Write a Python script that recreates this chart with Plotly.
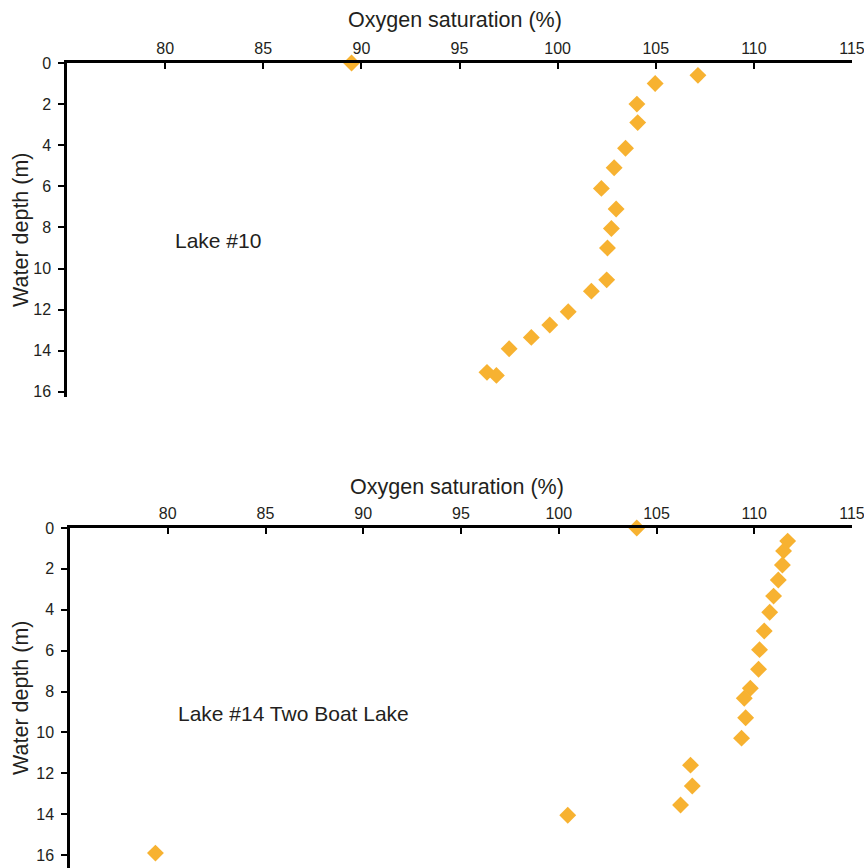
import plotly.graph_objects as go

W, H = 864, 868

# Lake #10
lake10_o2 = [89.5, 107.15, 104.97, 104.04, 104.08, 103.46, 102.88, 102.23, 102.98, 102.74,
             102.54, 102.5, 101.72, 100.54, 99.6, 98.66, 97.53, 96.4, 96.88]
lake10_depth = [0, 0.6, 1.0, 2.0, 2.9, 4.15, 5.1, 6.1, 7.1, 8.05,
                9.0, 10.55, 11.1, 12.1, 12.75, 13.35, 13.9, 15.05, 15.2]

# Lake #14 Two Boat Lake
lake14_o2 = [103.99, 111.71, 111.5, 111.44, 111.23, 110.99, 110.79, 110.51, 110.27, 110.22,
             109.8, 109.49, 109.56, 109.35, 106.74, 106.83, 106.23, 100.46, 79.37]
lake14_depth = [0, 0.64, 1.12, 1.81, 2.54, 3.33, 4.12, 5.04, 5.95, 6.91,
                7.84, 8.33, 9.28, 10.28, 11.6, 12.62, 13.55, 14.05, 15.9]

x_ticks = [80, 85, 90, 95, 100, 105, 110, 115]
y_ticks = [0, 2, 4, 6, 8, 10, 12, 14, 16]

TXT = "#231f20"
MK = "#f7b231"
FONT = "Liberation Sans, Arial, sans-serif"

fig = go.Figure()
fig.add_trace(go.Scatter(x=lake10_o2, y=lake10_depth, mode="markers", xaxis="x", yaxis="y",
                         marker=dict(symbol="diamond", size=13, color=MK, line=dict(width=0)),
                         cliponaxis=False, showlegend=False))
fig.add_trace(go.Scatter(x=lake14_o2, y=lake14_depth, mode="markers", xaxis="x2", yaxis="y2",
                         marker=dict(symbol="diamond", size=13, color=MK, line=dict(width=0)),
                         cliponaxis=False, showlegend=False))

def px_x(p):
    return p / W

def px_y(p):
    return 1 - p / H

xcommon = dict(range=[75, 115], side="top", tickvals=x_ticks, ticks="inside", ticklen=6,
               tickwidth=2, tickcolor="black", showline=True, linecolor="black", linewidth=2.5,
               showgrid=False, zeroline=False, tickfont=dict(size=16, color=TXT, family=FONT),
               fixedrange=True, automargin=False, ticklabeloverflow="allow")
ycommon = dict(tickvals=y_ticks, ticks="outside", ticklen=6, tickwidth=2, tickcolor="black",
               showline=True, linecolor="black", linewidth=2.5, showgrid=False, zeroline=False,
               tickfont=dict(size=16, color=TXT, family=FONT), fixedrange=True, automargin=False,
               ticklabelstandoff=4, ticklabeloverflow="allow")

fig.update_layout(
    width=W, height=H, margin=dict(l=0, r=0, t=0, b=0, autoexpand=False),
    paper_bgcolor="white", plot_bgcolor="white",
    font=dict(family=FONT, color=TXT),
    xaxis=dict(domain=[px_x(67), px_x(852)], anchor="y", **xcommon),
    yaxis=dict(domain=[px_y(397), px_y(63)], anchor="x", range=[16.25, 0], **ycommon),
    xaxis2=dict(domain=[px_x(70), px_x(852)], anchor="y2", **xcommon),
    yaxis2=dict(domain=[0, px_y(528)], anchor="x2", range=[16.63, 0], **ycommon),
)

ann = []
ann.append(dict(text="Oxygen saturation (%)", x=px_x(455), y=px_y(20), xref="paper", yref="paper",
                showarrow=False, xanchor="center", yanchor="middle", font=dict(size=21.5, color=TXT)))
ann.append(dict(text="Oxygen saturation (%)", x=px_x(457), y=px_y(487), xref="paper", yref="paper",
                showarrow=False, xanchor="center", yanchor="middle", font=dict(size=21.5, color=TXT)))
ann.append(dict(text="Water depth (m)", x=px_x(21), y=px_y(230), xref="paper", yref="paper",
                showarrow=False, xanchor="center", yanchor="middle", textangle=-90,
                font=dict(size=21.5, color=TXT)))
ann.append(dict(text="Water depth (m)", x=px_x(21), y=px_y(698), xref="paper", yref="paper",
                showarrow=False, xanchor="center", yanchor="middle", textangle=-90,
                font=dict(size=21.5, color=TXT)))
ann.append(dict(text="Lake #10", x=px_x(173), y=px_y(240), xref="paper", yref="paper",
                showarrow=False, xanchor="left", yanchor="middle", font=dict(size=21, color=TXT)))
ann.append(dict(text="Lake #14 Two Boat Lake", x=px_x(176), y=px_y(713), xref="paper", yref="paper",
                showarrow=False, xanchor="left", yanchor="middle", font=dict(size=21, color=TXT)))
fig.update_layout(annotations=ann)

fig.write_html("out.html", config={"displayModeBar": False},
               post_script="document.body.style.margin='0';document.body.style.overflow='hidden';")
